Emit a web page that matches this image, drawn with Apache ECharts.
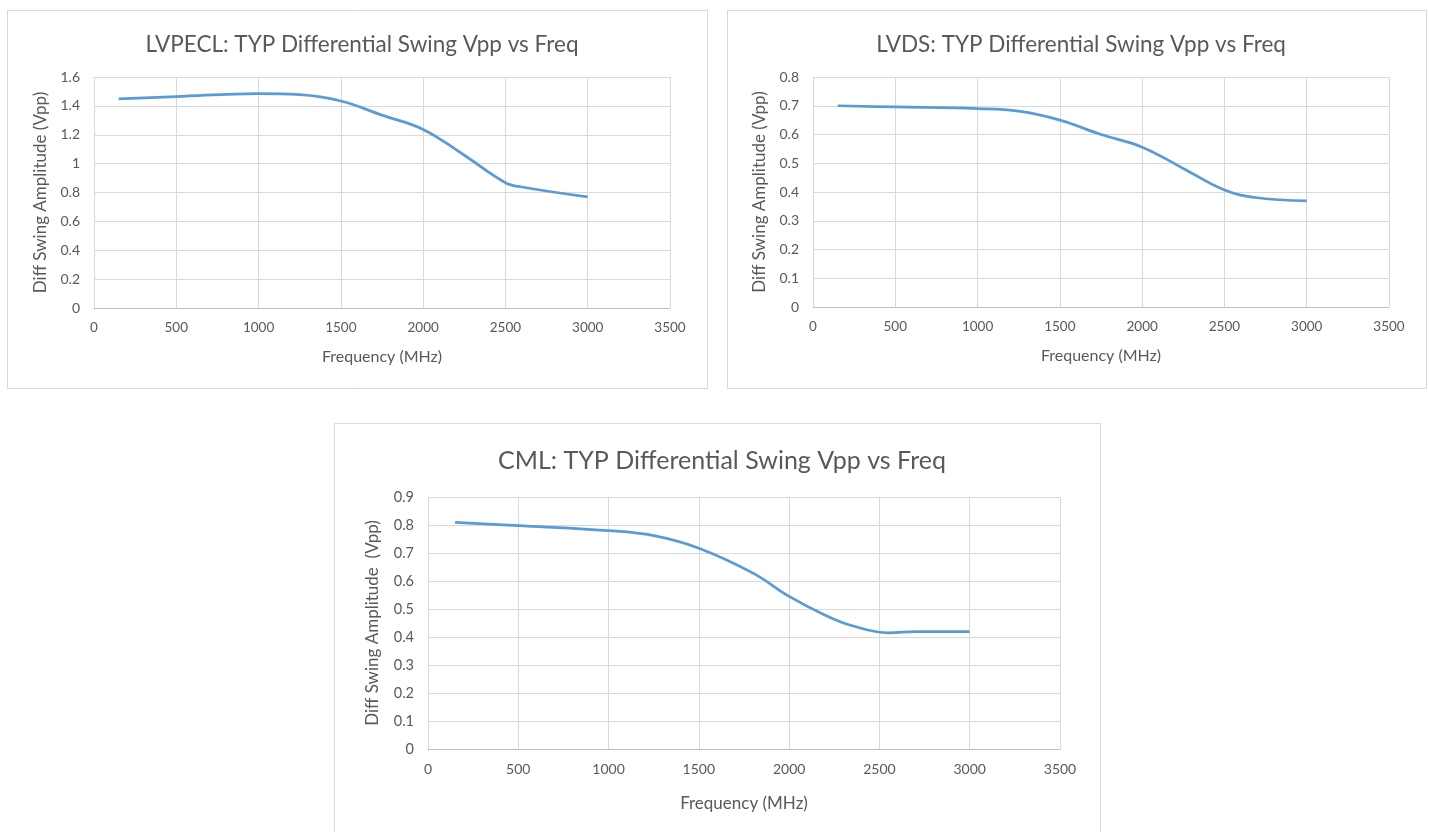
<!DOCTYPE html>
<html>
<head>
<meta charset="utf-8">
<script src="https://cdn.jsdelivr.net/npm/echarts@6/dist/echarts.min.js"></script>
<style>
html,body{margin:0;padding:0;background:#fff;}
#c{width:1429px;height:832px;}
</style>
</head>
<body>
<div id="c"></div>
<script>
// Data
const titles = [
  'LVPECL: TYP Differential Swing Vpp vs Freq',
  'LVDS: TYP Differential Swing Vpp vs Freq',
  'CML: TYP Differential Swing Vpp vs Freq'
];
const xName = 'Frequency (MHz)';
const yNames = ['Diff Swing Amplitude (Vpp)', 'Diff Swing Amplitude (Vpp)', 'Diff Swing Amplitude  (Vpp)'];

const lvpeclFreq = [150, 500, 1000, 1250, 1500, 1750, 2000, 2250, 2500, 2600, 3000];
const lvpeclVpp  = [1.448, 1.464, 1.485, 1.478, 1.434, 1.336, 1.237, 1.058, 0.868, 0.838, 0.769];

const lvdsFreq = [150, 500, 1000, 1250, 1500, 1750, 2000, 2250, 2500, 2700, 3000];
const lvdsVpp  = [0.700, 0.696, 0.690, 0.681, 0.650, 0.600, 0.556, 0.482, 0.407, 0.380, 0.369];

const cmlFreq = [150, 500, 1000, 1250, 1500, 1800, 2000, 2200, 2350, 2550, 2700, 3000];
const cmlVpp  = [0.809, 0.798, 0.780, 0.762, 0.717, 0.628, 0.545, 0.478, 0.440, 0.415, 0.419, 0.419];

const yMax = [1.6, 0.8, 0.9];
const yStep = [0.2, 0.1, 0.1];

const chart = echarts.init(document.getElementById('c'));
const font = 'Lato';
const txt = '#595959';
const gridCol = '#d9d9d9';

const grids = [
  {left: 94, top: 77, width: 576, height: 231},
  {left: 813, top: 77, width: 576, height: 230},
  {left: 428, top: 497, width: 632, height: 252}
];
const xGapName = [41, 41, 46];
const yGapName = [45, 45, 47];
const titleTop = [28, 28, 443];
const titleLeft = [357, 1076, 717];
const titleSize = [22.5, 22.5, 25];

function pairs(xs, ys){ return xs.map((x,i)=>[x, ys[i]]); }
const seriesData = [pairs(lvpeclFreq, lvpeclVpp), pairs(lvdsFreq, lvdsVpp), pairs(cmlFreq, cmlVpp)];

const option = {
  backgroundColor: '#fff',
  animation: false,
  textStyle: {fontFamily: font},
  title: titles.map((t,i)=>({
    text: t, left: titleLeft[i], top: titleTop[i], textAlign: 'center',
    textStyle: {fontFamily: font, fontWeight: 'normal', fontSize: titleSize[i], color: txt}
  })),
  graphic: [
    {type:'rect', shape:{x:7.5, y:10.5, width:700, height:378}, style:{fill:'none', stroke:gridCol, lineWidth:1}},
    {type:'rect', shape:{x:727.5, y:10.5, width:699, height:378}, style:{fill:'none', stroke:gridCol, lineWidth:1}},
    {type:'rect', shape:{x:334.5, y:423.5, width:766, height:420}, style:{fill:'none', stroke:gridCol, lineWidth:1}}
  ],
  grid: grids,
  xAxis: grids.map((g,i)=>({
    type:'value', gridIndex:i, min:0, max:3500, interval:500,
    name: xName, nameLocation:'middle', nameGap: xGapName[i],
    nameTextStyle:{color:txt, fontSize: i===2?17:16, fontFamily:font},
    axisLine:{show:true, lineStyle:{color:'#bfbfbf', width:1}},
    axisTick:{show:false},
    axisLabel:{color:txt, fontSize: i===2?14:13.5, margin:13, fontFamily:font, formatter: v => String(v)},
    splitLine:{show:true, lineStyle:{color:gridCol, width:1}}
  })),
  yAxis: grids.map((g,i)=>({
    type:'value', gridIndex:i, min:0, max:yMax[i], interval:yStep[i],
    name: yNames[i], nameLocation:'middle', nameGap: yGapName[i], nameRotate:90,
    nameTextStyle:{color:txt, fontSize: 17, fontFamily:font},
    axisLine:{show:false},
    axisTick:{show:false},
    axisLabel:{color:txt, fontSize: i===2?14.5:14, margin:14, fontFamily:font},
    splitLine:{show:true, lineStyle:{color:gridCol, width:1}}
  })),
  series: seriesData.map((d,i)=>({
    type:'line', xAxisIndex:i, yAxisIndex:i, data:d, smooth:0.4,
    showSymbol:false, symbol:'none',
    lineStyle:{color:'#5b9bd5', width:2.75},
    itemStyle:{color:'#5b9bd5'}
  }))
};
chart.setOption(option);
</script>
</body>
</html>
